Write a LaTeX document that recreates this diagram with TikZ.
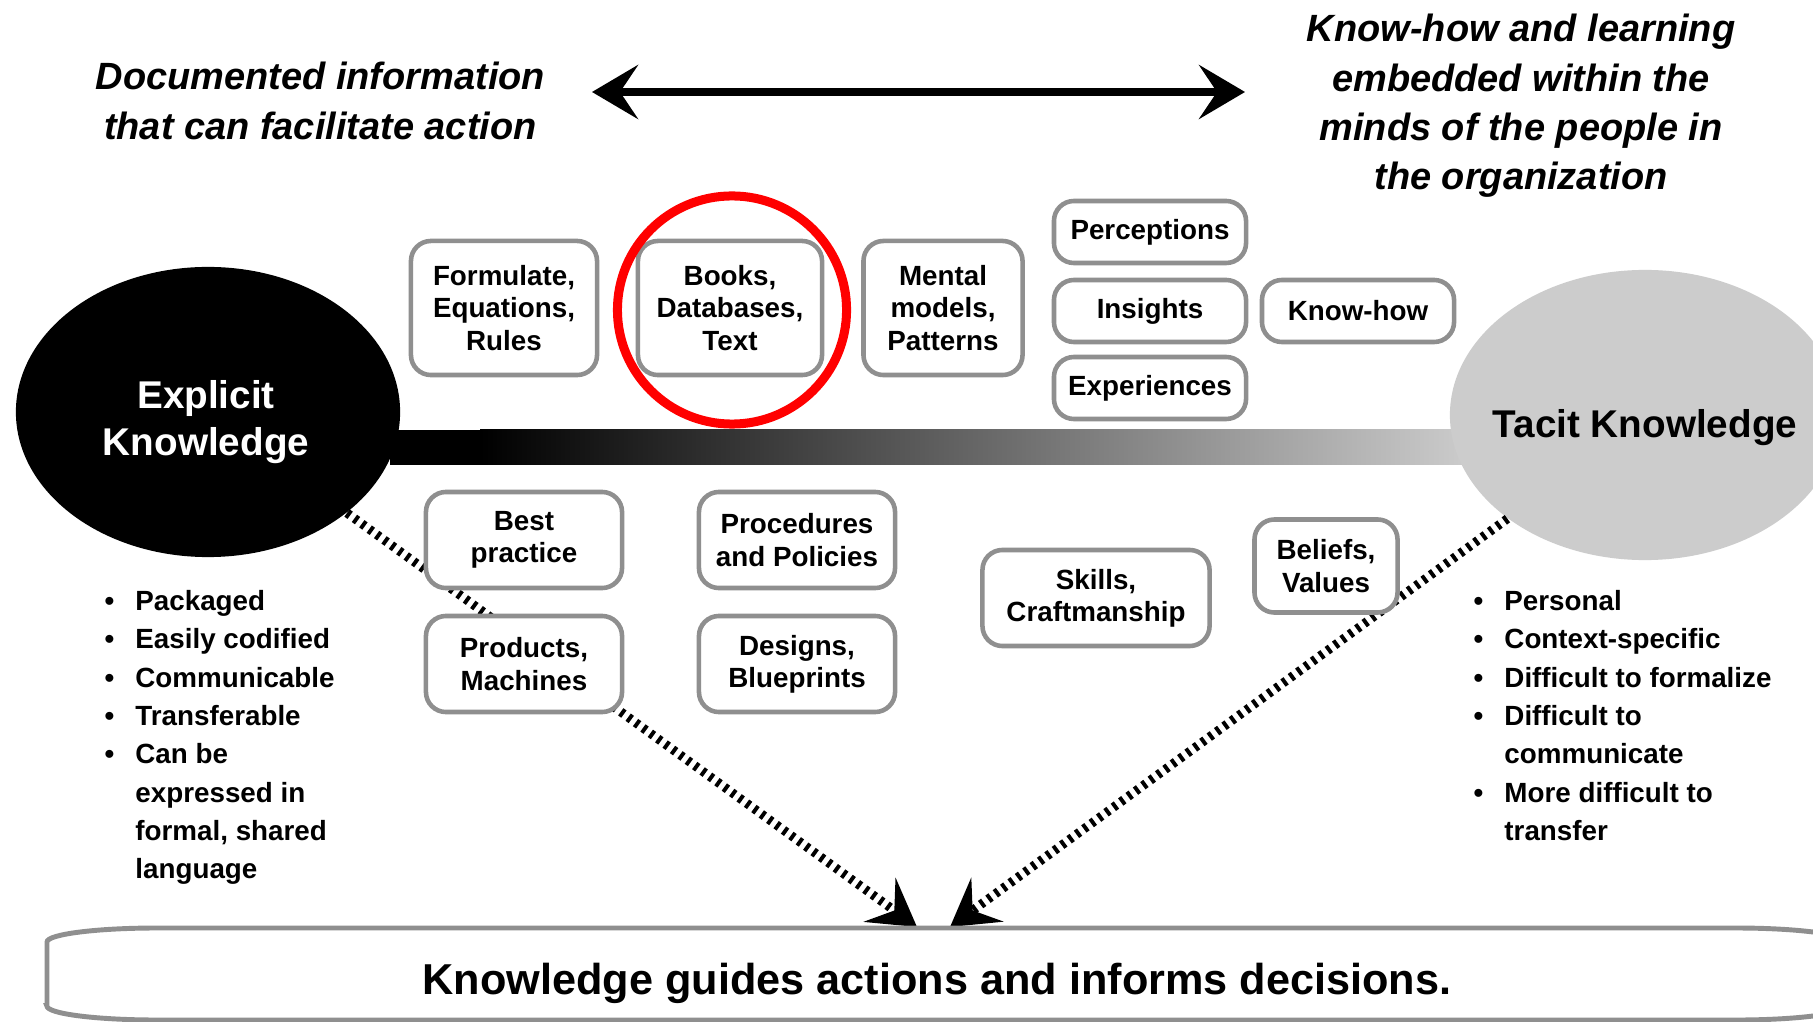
\documentclass[tikz,border=0pt]{standalone}
\usepackage{fontspec}
\setmainfont{Liberation Sans}
\usetikzlibrary{arrows.meta,backgrounds,shapes.geometric}

\begin{document}
\begin{tikzpicture}[x=0.01cm, y=-0.01cm, >={Stealth[length=4.6mm, width=5.4mm, inset=1.8mm]},
  every text node part/.style={align=center},
  box/.style={draw=black!44, line width=1.3pt, rounded corners=2mm, fill=white, inner sep=0pt, font=\fontsize{7.9}{9.2}\selectfont\bfseries},
  knowledge/.style={ellipse, inner sep=0pt, minimum height=2.9cm, font=\fontsize{11}{13.3}\selectfont\bfseries},
  note/.style={inner sep=0pt, font=\fontsize{10.8}{14}\selectfont\bfseries\itshape},
  traits/.style={inner sep=0pt, anchor=north west, font=\fontsize{7.9}{10.9}\selectfont\bfseries},
  flow/.style={->, line width=0.09cm, dash pattern=on 1.1pt off 1.5pt}]
\useasboundingbox (0,0) rectangle (1813,1022);
\clip (0,0) rectangle (1813,1022);

\draw
  node (expl) at (208,412)[knowledge, fill=black, minimum width=3.84cm]{}
  node (expltext) at (206,422)[knowledge, text=white]{Explicit\\Knowledge}
  node (tacit) at (1645,415)[knowledge, fill=black!20, minimum width=3.9cm]{}
  node (tacittext) at (1645,428)[knowledge]{Tacit Knowledge};

\begin{scope}[on background layer]
\fill[white] (0,0) rectangle (1813,1022);
\fill[black] (390,430) rectangle (482,465);
\shade[left color=black, right color=black!20] (480,430) rectangle (1470,465);
\end{scope}

\coordinate (tipL) at (917,927);
\coordinate (tipR) at (950,927);
\draw[flow] (expl.-36) -- (tipL);
\draw[flow] (tacit.-143) -- (tipR);

\draw
  node (formula) at (504,308)[box, minimum width=1.86cm, minimum height=1.34cm]{Formulate,\\Equations,\\Rules}
  node (books) at (730,308)[box, minimum width=1.84cm, minimum height=1.34cm]{Books,\\Databases,\\Text}
  node (mental) at (943,308)[box, minimum width=1.59cm, minimum height=1.34cm]{Mental\\models,\\Patterns}
  node (percept) at (1150,232)[box, minimum width=1.92cm, minimum height=0.62cm]{Perceptions}
  node (insight) at (1150,311)[box, minimum width=1.92cm, minimum height=0.62cm]{Insights}
  node (exper) at (1150,388)[box, minimum width=1.92cm, minimum height=0.62cm]{Experiences}
  node (knowhow) at (1358,311)[box, minimum width=1.92cm, minimum height=0.62cm]{Know-how}
  node (best) at (524,540)[box, minimum width=1.96cm, minimum height=0.96cm]{Best\\practice}
  node (proc) at (797,540)[box, minimum width=1.96cm, minimum height=0.96cm]{Procedures\\and Policies}
  node (prod) at (524,664)[box, minimum width=1.96cm, minimum height=0.96cm]{Products,\\Machines}
  node (design) at (797,664)[box, minimum width=1.96cm, minimum height=0.96cm]{Designs,\\Blueprints}
  node (skill) at (1096,598)[box, minimum width=2.27cm, minimum height=0.96cm]{Skills,\\Craftmanship}
  node (belief) at (1326,566)[box, minimum width=1.43cm, minimum height=0.93cm]{Beliefs,\\Values};

\node (ring) at (732,310)[ellipse, draw=red, line width=0.09cm, minimum width=2.29cm, minimum height=2.28cm]{};

\draw
  node (doc) at (95,101)[note, anchor=west, align=left]{Documented information\\that can facilitate action}
  node (mind) at (1521,106)[note]{Know-how and learning\\embedded within the\\minds of the people in\\the organization};
\coordinate (aL) at (592,92);
\coordinate (aR) at (1245,92);
\draw[<->, line width=0.08cm] (aL) -- (aR);

\node (explist) at (104,583)[traits]{\begin{tabular}{@{}l@{\hspace{0.21cm}}l@{}}
\textbullet & Packaged\\ \textbullet & Easily codified\\ \textbullet & Communicable\\ \textbullet & Transferable\\
\textbullet & Can be\\ & expressed in\\ & formal, shared\\ & language\end{tabular}};
\node (tacitlist) at (1473,583)[traits]{\begin{tabular}{@{}l@{\hspace{0.21cm}}l@{}}
\textbullet & Personal\\ \textbullet & Context-specific\\ \textbullet & Difficult to formalize\\
\textbullet & Difficult to\\ & communicate\\ \textbullet & More difficult to\\ & transfer\end{tabular}};

\draw[draw=black!44, line width=1.4pt] (47,1006) -- (47,942) arc[start angle=180, end angle=90, x radius=1.1cm, y radius=0.14cm]
  -- (1736,928) arc[start angle=90, end angle=0, x radius=1.1cm, y radius=0.14cm]
  -- (1846,1006) arc[start angle=0, end angle=-90, x radius=1.1cm, y radius=0.14cm]
  -- (157,1020) arc[start angle=270, end angle=180, x radius=1.1cm, y radius=0.14cm] -- cycle;
\node (goal) at (937,983)[inner sep=0pt, font=\fontsize{12.3}{14}\selectfont\bfseries]{Knowledge guides actions and informs decisions.};
\end{tikzpicture}
\end{document}
